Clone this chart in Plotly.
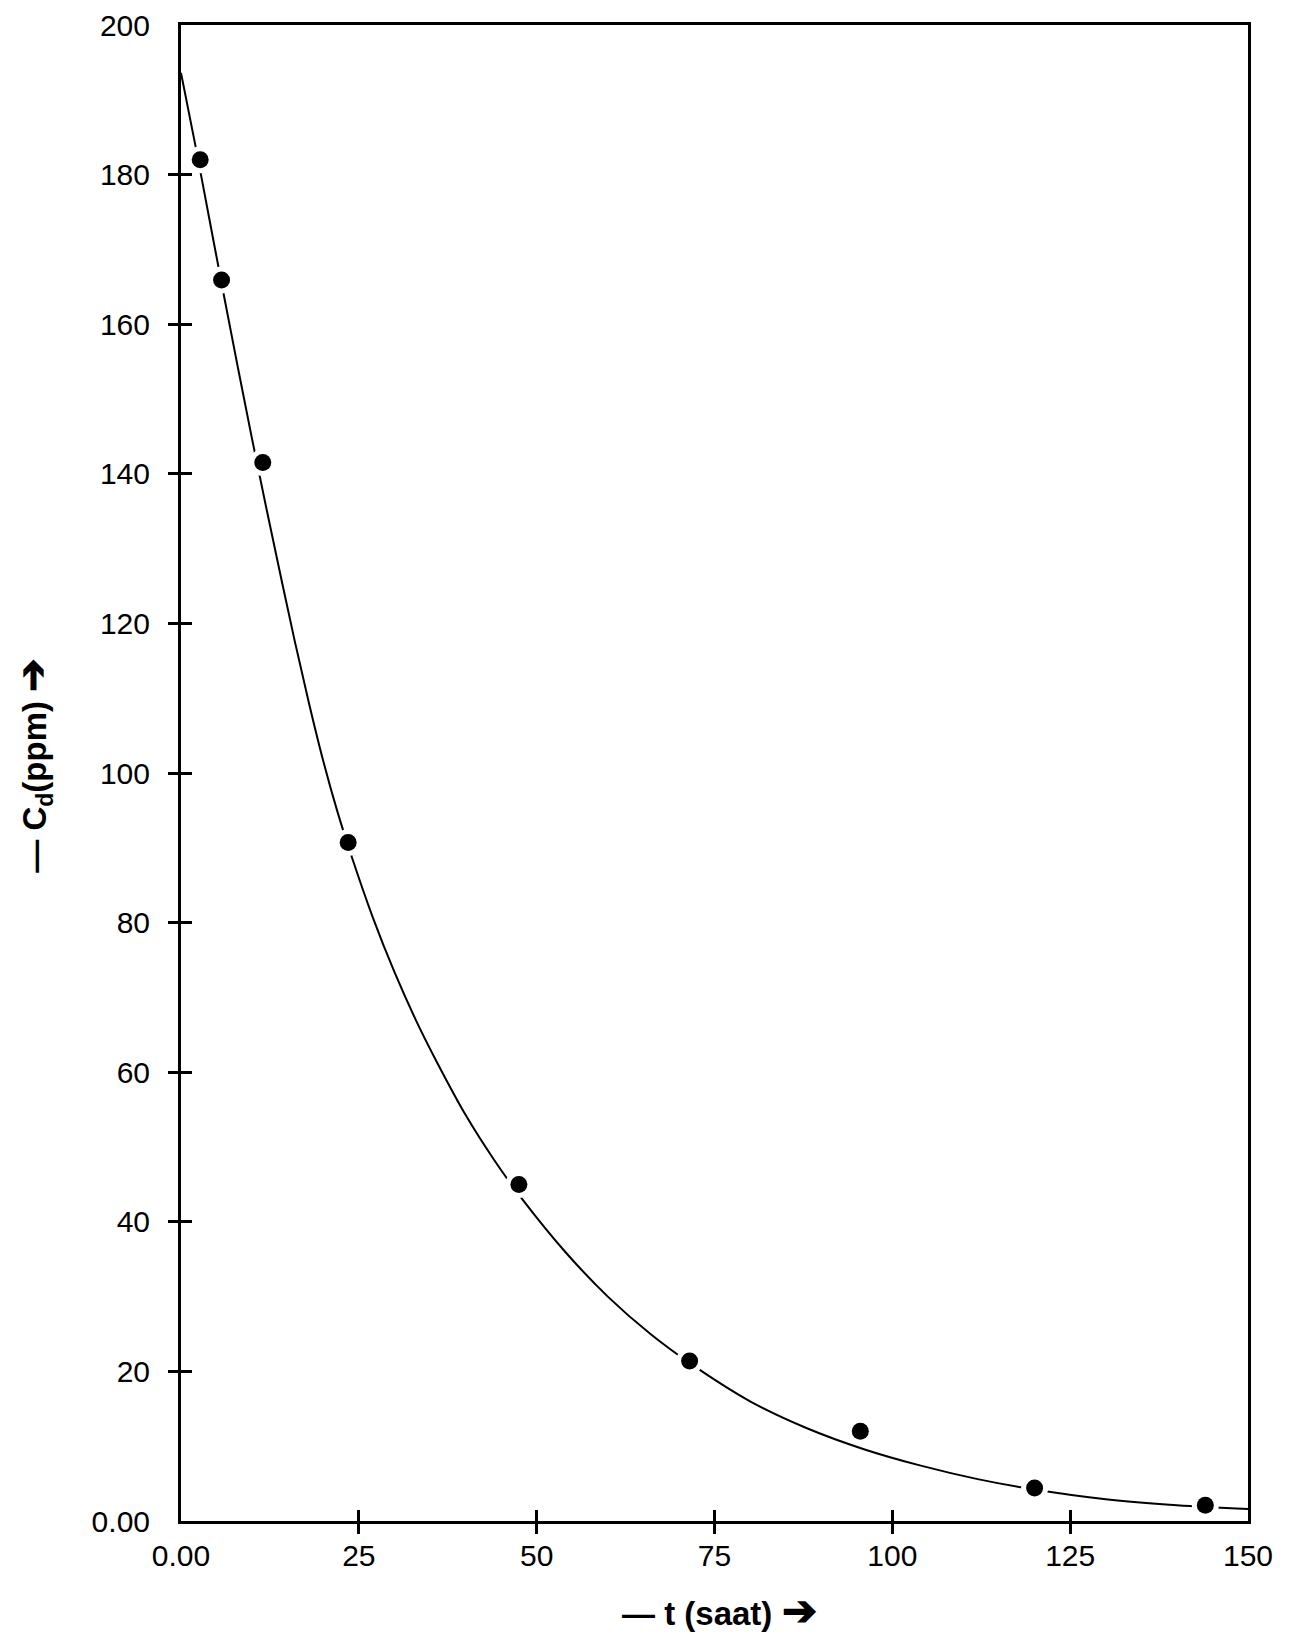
import plotly.graph_objects as go

# Observed data points (t in hours, Cd in ppm)
t_obs = [2.7, 5.7, 11.5, 23.5, 47.5, 71.5, 95.5, 120.0, 144.0]
c_obs = [182.0, 165.9, 141.5, 90.7, 45.0, 21.4, 12.0, 4.4, 2.1]

# Fitted curve
t_fit = [0, 2, 4, 6, 8, 10, 12, 14, 16, 18, 20, 22, 24, 27, 30, 33, 36, 40, 44, 48,
         54, 60, 66, 72, 80, 88, 96, 104, 112, 120, 130, 140, 150]
c_fit = [193.6, 184.0, 174.0, 164.0, 154.2, 144.6, 135.4, 126.4, 117.6, 109.3, 101.6,
         94.8, 88.8, 80.6, 73.4, 67.0, 61.3, 54.3, 48.3, 43.0, 36.0, 30.0, 25.0, 20.8,
         16.0, 12.4, 9.6, 7.4, 5.6, 4.2, 2.9, 2.1, 1.6]

x_label_vals = [0, 25, 50, 75, 100, 125, 150]
x_label_text = ["0.00", "25", "50", "75", "100", "125", "150"]
x_tick_vals = [25, 50, 75, 100, 125]

y_label_vals = [0, 20, 40, 60, 80, 100, 120, 140, 160, 180, 200]
y_label_text = ["0.00", "20", "40", "60", "80", "100", "120", "140", "160", "180", "200"]
y_tick_vals = [20, 40, 60, 80, 100, 120, 140, 160, 180]

FONT = "Liberation Sans, Arial, sans-serif"

fig = go.Figure()
fig.add_trace(go.Scatter(x=t_fit, y=c_fit, mode="lines",
                         line=dict(color="black", width=2, shape="spline", smoothing=1.0),
                         showlegend=False, hoverinfo="skip"))
# white halo around markers (gap in curve)
fig.add_trace(go.Scatter(x=t_obs, y=c_obs, mode="markers",
                         marker=dict(color="white", size=27, line=dict(width=0)),
                         showlegend=False, hoverinfo="skip"))
fig.add_trace(go.Scatter(x=t_obs, y=c_obs, mode="markers",
                         marker=dict(color="black", size=17, line=dict(width=0)),
                         showlegend=False))
# dummy traces to activate overlay tick axes
for xa, ya in [("x2", "y"), ("x3", "y"), ("x", "y2"), ("x", "y3")]:
    fig.add_trace(go.Scatter(x=[None], y=[None], xaxis=xa, yaxis=ya,
                             showlegend=False, hoverinfo="skip"))

axis_common = dict(showgrid=False, zeroline=False, automargin=False)

# page body has an 8px default margin; the figure is sized to fit the window
fig.update_layout(
    width=1287, height=1626,
    margin=dict(l=173, r=47, t=17, b=113),
    paper_bgcolor="white", plot_bgcolor="white",
    font=dict(family=FONT, color="black", size=30),
    xaxis=dict(range=[0, 150], tickmode="array", tickvals=x_label_vals, ticktext=x_label_text,
               ticks="", showline=True, linewidth=3, linecolor="black", mirror=True,
               ticklabeloverflow="allow",
               tickfont=dict(size=30, family=FONT), ticklabelstandoff=6, **axis_common),
    yaxis=dict(range=[0, 200], tickmode="array", tickvals=y_label_vals, ticktext=y_label_text,
               ticks="", showline=True, linewidth=3, linecolor="black", mirror=True,
               ticklabeloverflow="allow",
               tickfont=dict(size=30, family=FONT), ticklabelstandoff=22, **axis_common),
    xaxis2=dict(overlaying="x", anchor="y", side="bottom", range=[0, 150], tickmode="array",
                tickvals=x_tick_vals, ticks="outside", ticklen=12, tickwidth=3, tickcolor="black",
                showticklabels=False, showline=False, **axis_common),
    xaxis3=dict(overlaying="x", anchor="y", side="bottom", range=[0, 150], tickmode="array",
                tickvals=x_tick_vals, ticks="inside", ticklen=11, tickwidth=3, tickcolor="black",
                showticklabels=False, showline=False, **axis_common),
    yaxis2=dict(overlaying="y", anchor="x", side="left", range=[0, 200], tickmode="array",
                tickvals=y_tick_vals, ticks="outside", ticklen=12, tickwidth=3, tickcolor="black",
                showticklabels=False, showline=False, **axis_common),
    yaxis3=dict(overlaying="y", anchor="x", side="left", range=[0, 200], tickmode="array",
                tickvals=y_tick_vals, ticks="inside", ticklen=11, tickwidth=3, tickcolor="black",
                showticklabels=False, showline=False, **axis_common),
)

fig.add_annotation(xref="paper", yref="paper", x=0.505, y=-0.0595,
                   text="<b>— t (saat) <span style='font-size:42px'>➔</span></b>", showarrow=False,
                   xanchor="center", yanchor="middle",
                   font=dict(size=33, family=FONT, color="black"))
fig.add_annotation(xref="paper", yref="paper", x=-0.1385, y=0.505,
                   text="<b>— C<sub>d</sub>(ppm) <span style='font-size:40px'>➔</span></b>",
                   showarrow=False, textangle=-90,
                   xanchor="center", yanchor="middle",
                   font=dict(size=33, family=FONT, color="black"))

fig.write_html("out.html")
